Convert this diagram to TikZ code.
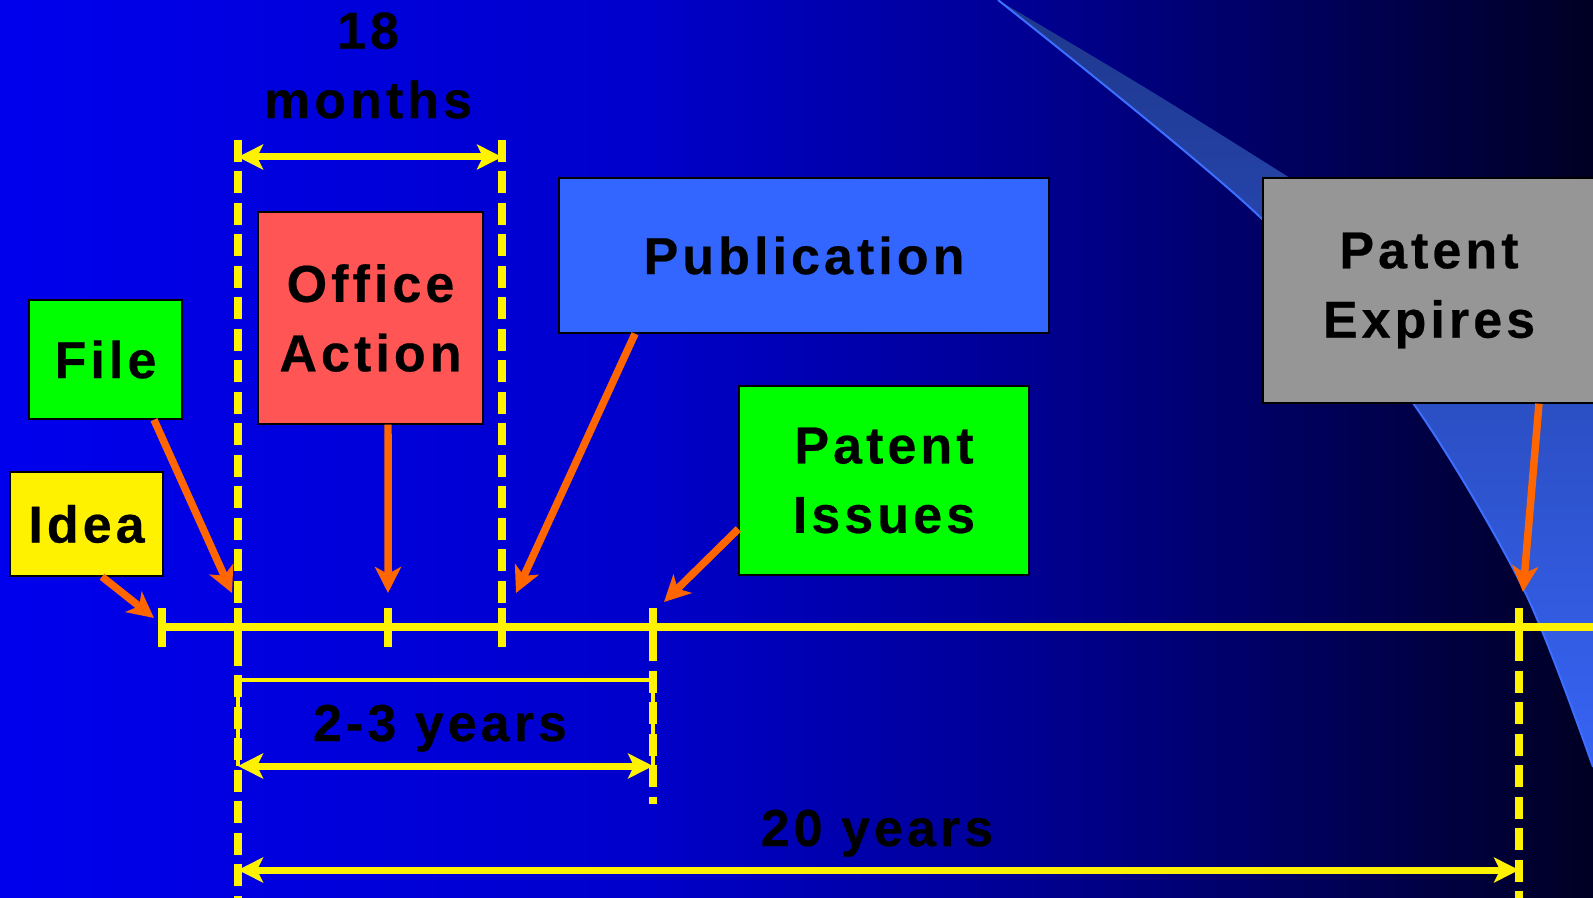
\documentclass[tikz,border=0pt]{standalone}
\usepackage{fontspec}
\usepackage{tikz}
\usetikzlibrary{arrows.meta}
\newfontfamily\labelfont{Liberation Sans}[LetterSpace=7.8, BoldFeatures={FakeBold=0.4}]
\pgfdeclarehorizontalshading{bgfade}{100bp}{rgb(0bp)=(0,0,0.93); rgb(25bp)=(0,0,0.93); rgb(45bp)=(0,0,0.80); rgb(57bp)=(0,0,0.58); rgb(75bp)=(0,0,0.14); rgb(100bp)=(0,0,0.14)}
\definecolor{swooshdark}{RGB}{30,55,140}
\definecolor{swooshlight}{RGB}{55,100,245}
\definecolor{swooshedge}{RGB}{60,110,255}
\definecolor{arroworange}{RGB}{255,102,0}
\definecolor{officered}{RGB}{255,85,85}
\definecolor{pubblue}{RGB}{51,102,255}
\definecolor{expgrey}{RGB}{150,150,150}
\tikzstyle{box} = [rectangle, draw=black, line width=0.03cm, text=black, align=center, inner sep=0pt, font=\labelfont\bfseries\fontsize{29.6}{39.5}\selectfont]
\tikzstyle{spantext} = [text=black, align=center, inner sep=0pt, font=\labelfont\bfseries\fontsize{29.6}{39.5}\selectfont]
\tikzstyle{pointer} = [arroworange, line width=0.15cm, -{Stealth[length=0.52cm, width=0.52cm, inset=0.14cm]}]
\tikzstyle{span} = [yellow, line width=0.14cm, {Stealth[length=0.5cm, width=0.5cm, inset=0.12cm]}-{Stealth[length=0.5cm, width=0.5cm, inset=0.12cm]}]
\tikzstyle{guide} = [yellow, line width=0.15cm, dash pattern=on 0.44cm off 0.19cm]
\tikzstyle{tick} = [yellow, line width=0.15cm]

\begin{document}
\begin{tikzpicture}[x=0.02cm, y=-0.02cm]
    \useasboundingbox (0,0) rectangle (1593,898);
    % background and swoosh
    \shade[shading=bgfade] (0,0) rectangle (1593,898);
    \shade[top color=swooshdark, bottom color=swooshlight]
        plot[smooth] coordinates {(998,0) (1261,218) (1413,403) (1524,590) (1593,767)}
        -- (1593,330) .. controls (1450,260) .. (1290,178) .. controls (1150,90) .. (998,0) -- cycle;
    \draw[swooshedge, line width=0.04cm] plot[smooth] coordinates {(998,0) (1261,218) (1413,403) (1524,590) (1593,767)};
    % time line
    \draw[guide] (238,140) -- (238,898);
    \draw[guide] (502,140) -- (502,647);
    \draw[guide] (653,608) -- (653,804);
    \draw[guide] (1519,608) -- (1519,898);
    \draw[tick] (162,627) -- (1593,627);
    \foreach \t in {162,238,388,502,653,1519}
        \draw[tick] (\t,608) -- (\t,647);
    % spans
    \draw[span] (238,157) -- (502,157);
    \draw[yellow, line width=0.08cm] (238,766) -- (238,680) -- (653,680) -- (653,766);
    \draw[span] (238,766) -- (653,766);
    \draw[span] (238,870) -- (1519,870);
    \node (months) [spantext] at (368,65.5) {18\\months};
    \node (twothree) [spantext, anchor=base] at (440,741) {2-3 years};
    \node (twenty) [spantext, anchor=base] at (877,846) {20 years};
    % events
    \node (idea) [box, fill=yellow, minimum width=3.06cm, minimum height=2.08cm] at (86.5,524) {Idea};
    \node (file) [box, fill=green, minimum width=3.06cm, minimum height=2.38cm] at (105.5,359.5) {File};
    \node (office) [box, fill=officered, minimum width=4.5cm, minimum height=4.24cm] at (370.5,318) {Office\\Action};
    \node (pub) [box, fill=pubblue, minimum width=9.8cm, minimum height=3.1cm] at (804,255.5) {Publication};
    \node (issues) [box, fill=green, minimum width=5.8cm, minimum height=3.78cm] at (884,480.5) {Patent\\Issues};
    \node (expires) [box, fill=expgrey, minimum width=6.64cm, minimum height=4.5cm] at (1429,290.5) {Patent\\Expires};
    \coordinate (hitidea) at (154,618);
    \coordinate (hitfile) at (232,593);
    \coordinate (hitoffice) at (388,593);
    \coordinate (hitpub) at (516,593);
    \coordinate (hitissues) at (664,602);
    \coordinate (hitexpires) at (1523,592);
    \draw [pointer] ([xshift=0.31cm]idea.south) -- (hitidea);
    \draw [pointer] ([xshift=0.97cm]file.south) -- (hitfile);
    \draw [pointer] ([xshift=0.35cm]office.south) -- (hitoffice);
    \draw [pointer] ([xshift=-3.38cm]pub.south) -- (hitpub);
    \draw [pointer] ([yshift=-0.97cm]issues.west) -- (hitissues);
    \draw [pointer] ([xshift=2.2cm]expires.south) -- (hitexpires);
\end{tikzpicture}
\end{document}
